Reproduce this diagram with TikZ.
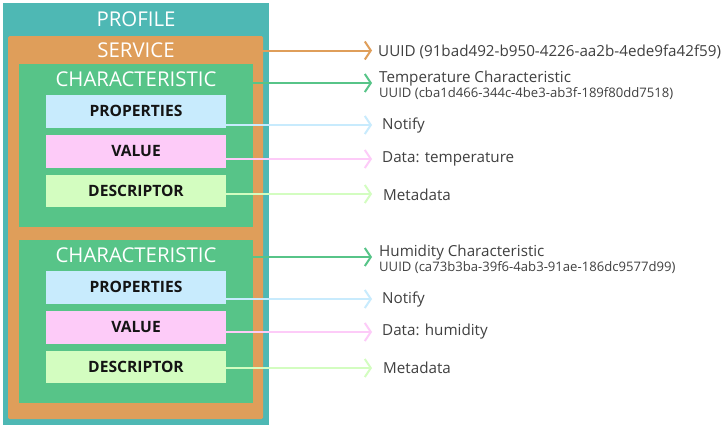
\documentclass[tikz,border=0pt]{standalone}
\usepackage{fontspec}
\setmainfont{Open Sans}
\usetikzlibrary{arrows.meta,calc}
\definecolor{cteal}{HTML}{4EB8B4}
\definecolor{corange}{HTML}{DF9E5A}
\definecolor{cgreen}{HTML}{57C488}
\definecolor{cblue}{HTML}{C8EBFD}
\definecolor{cpink}{HTML}{FDCBF8}
\definecolor{clgreen}{HTML}{D3FDC0}
\definecolor{ctext}{HTML}{404040}
\tikzset{
  box/.style={draw=none,anchor=north west,inner sep=0pt,outer sep=0pt},
  title/.style={text=white,font=\fontsize{20.4}{22}\selectfont,inner sep=0pt},
  inner/.style={box,minimum width=180pt,minimum height=32.5pt,font=\bfseries\fontsize{15.6}{17}\selectfont,text=black!92},
  arr/.style={line width=2pt,-{Straight Barb[length=6pt,width=18pt,line width=2pt]}},
  lbl/.style={anchor=west,inner sep=0pt,text=ctext,font=\fontsize{15.2}{17}\selectfont},
  sub/.style={anchor=west,inner sep=0pt,text=ctext,font=\fontsize{13.1}{15}\selectfont},
}
\begin{document}
\begin{tikzpicture}[x=1pt,y=-1pt]
\useasboundingbox[fill=white] (0,0) rectangle (725,429);
% boxes
\node[box,fill=cteal,minimum width=266pt,minimum height=422pt] (prof) at (3,3) {};
\node[title] (proft) at (136,19) {PROFILE};
\node[box,fill=corange,rounded corners=1.5pt,minimum width=255pt,minimum height=383pt] (svc) at (8,36) {};
\node[title] (svct) at (136,50) {SERVICE};
% characteristic 1
\node[box,fill=cgreen,minimum width=234pt,minimum height=163pt] (c1) at (19,64) {};
\node[title] (c1t) at (136,79) {CHARACTERISTIC};
\node[inner,fill=cblue] (p1) at (46,95) {PROPERTIES};
\node[inner,fill=cpink] (v1) at (46,135) {VALUE};
\node[inner,fill=clgreen] (d1) at (46,174.5) {DESCRIPTOR};
% characteristic 2
\node[box,fill=cgreen,minimum width=234pt,minimum height=163pt] (c2) at (19,240) {};
\node[title] (c2t) at (136,255) {CHARACTERISTIC};
\node[inner,fill=cblue] (p2) at (46,271) {PROPERTIES};
\node[inner,fill=cpink] (v2) at (46,311) {VALUE};
\node[inner,fill=clgreen] (d2) at (46,350.5) {DESCRIPTOR};
% labels
\node[lbl] (l0) at (378,52) {UUID (91bad492-b950-4226-aa2b-4ede9fa42f59)};
\node[lbl] (l1) at (379,79) {Temperature Characteristic};
\node[sub] (l1u) at (379,94) {UUID (cba1d466-344c-4be3-ab3f-189f80dd7518)};
\node[lbl] (l2) at (382,126) {Notify};
\node[lbl] (l3) at (382,159) {Data: temperature};
\node[lbl] (l4) at (383,195) {Metadata};
\node[lbl] (l5) at (379,253) {Humidity Characteristic};
\node[sub] (l5u) at (379,268) {UUID (ca73b3ba-39f6-4ab3-91ae-186dc9577d99)};
\node[lbl] (l6) at (382,300) {Notify};
\node[lbl] (l7) at (382,332) {Data: humidity};
\node[lbl] (l8) at (383,368) {Metadata};
% arrow tips
\coordinate (t0) at (372,50.5);
\coordinate (t1) at (372,83);
\coordinate (t2) at (372,125);
\coordinate (t3) at (372,159);
\coordinate (t4) at (372,194);
\coordinate (t5) at (372,257);
\coordinate (t6) at (372,299);
\coordinate (t7) at (372,332);
\coordinate (t8) at (372,368);
\draw[arr,draw=corange] (svc.east |- t0) -- (t0);
\draw[arr,draw=cgreen] (c1.east |- t1) -- (t1);
\draw[arr,draw=cblue] (p1.east |- t2) -- (t2);
\draw[arr,draw=cpink] (v1.east |- t3) -- (t3);
\draw[arr,draw=clgreen] (d1.east |- t4) -- (t4);
\draw[arr,draw=cgreen] (c2.east |- t5) -- (t5);
\draw[arr,draw=cblue] (p2.east |- t6) -- (t6);
\draw[arr,draw=cpink] (v2.east |- t7) -- (t7);
\draw[arr,draw=clgreen] (d2.east |- t8) -- (t8);
\end{tikzpicture}
\end{document}
